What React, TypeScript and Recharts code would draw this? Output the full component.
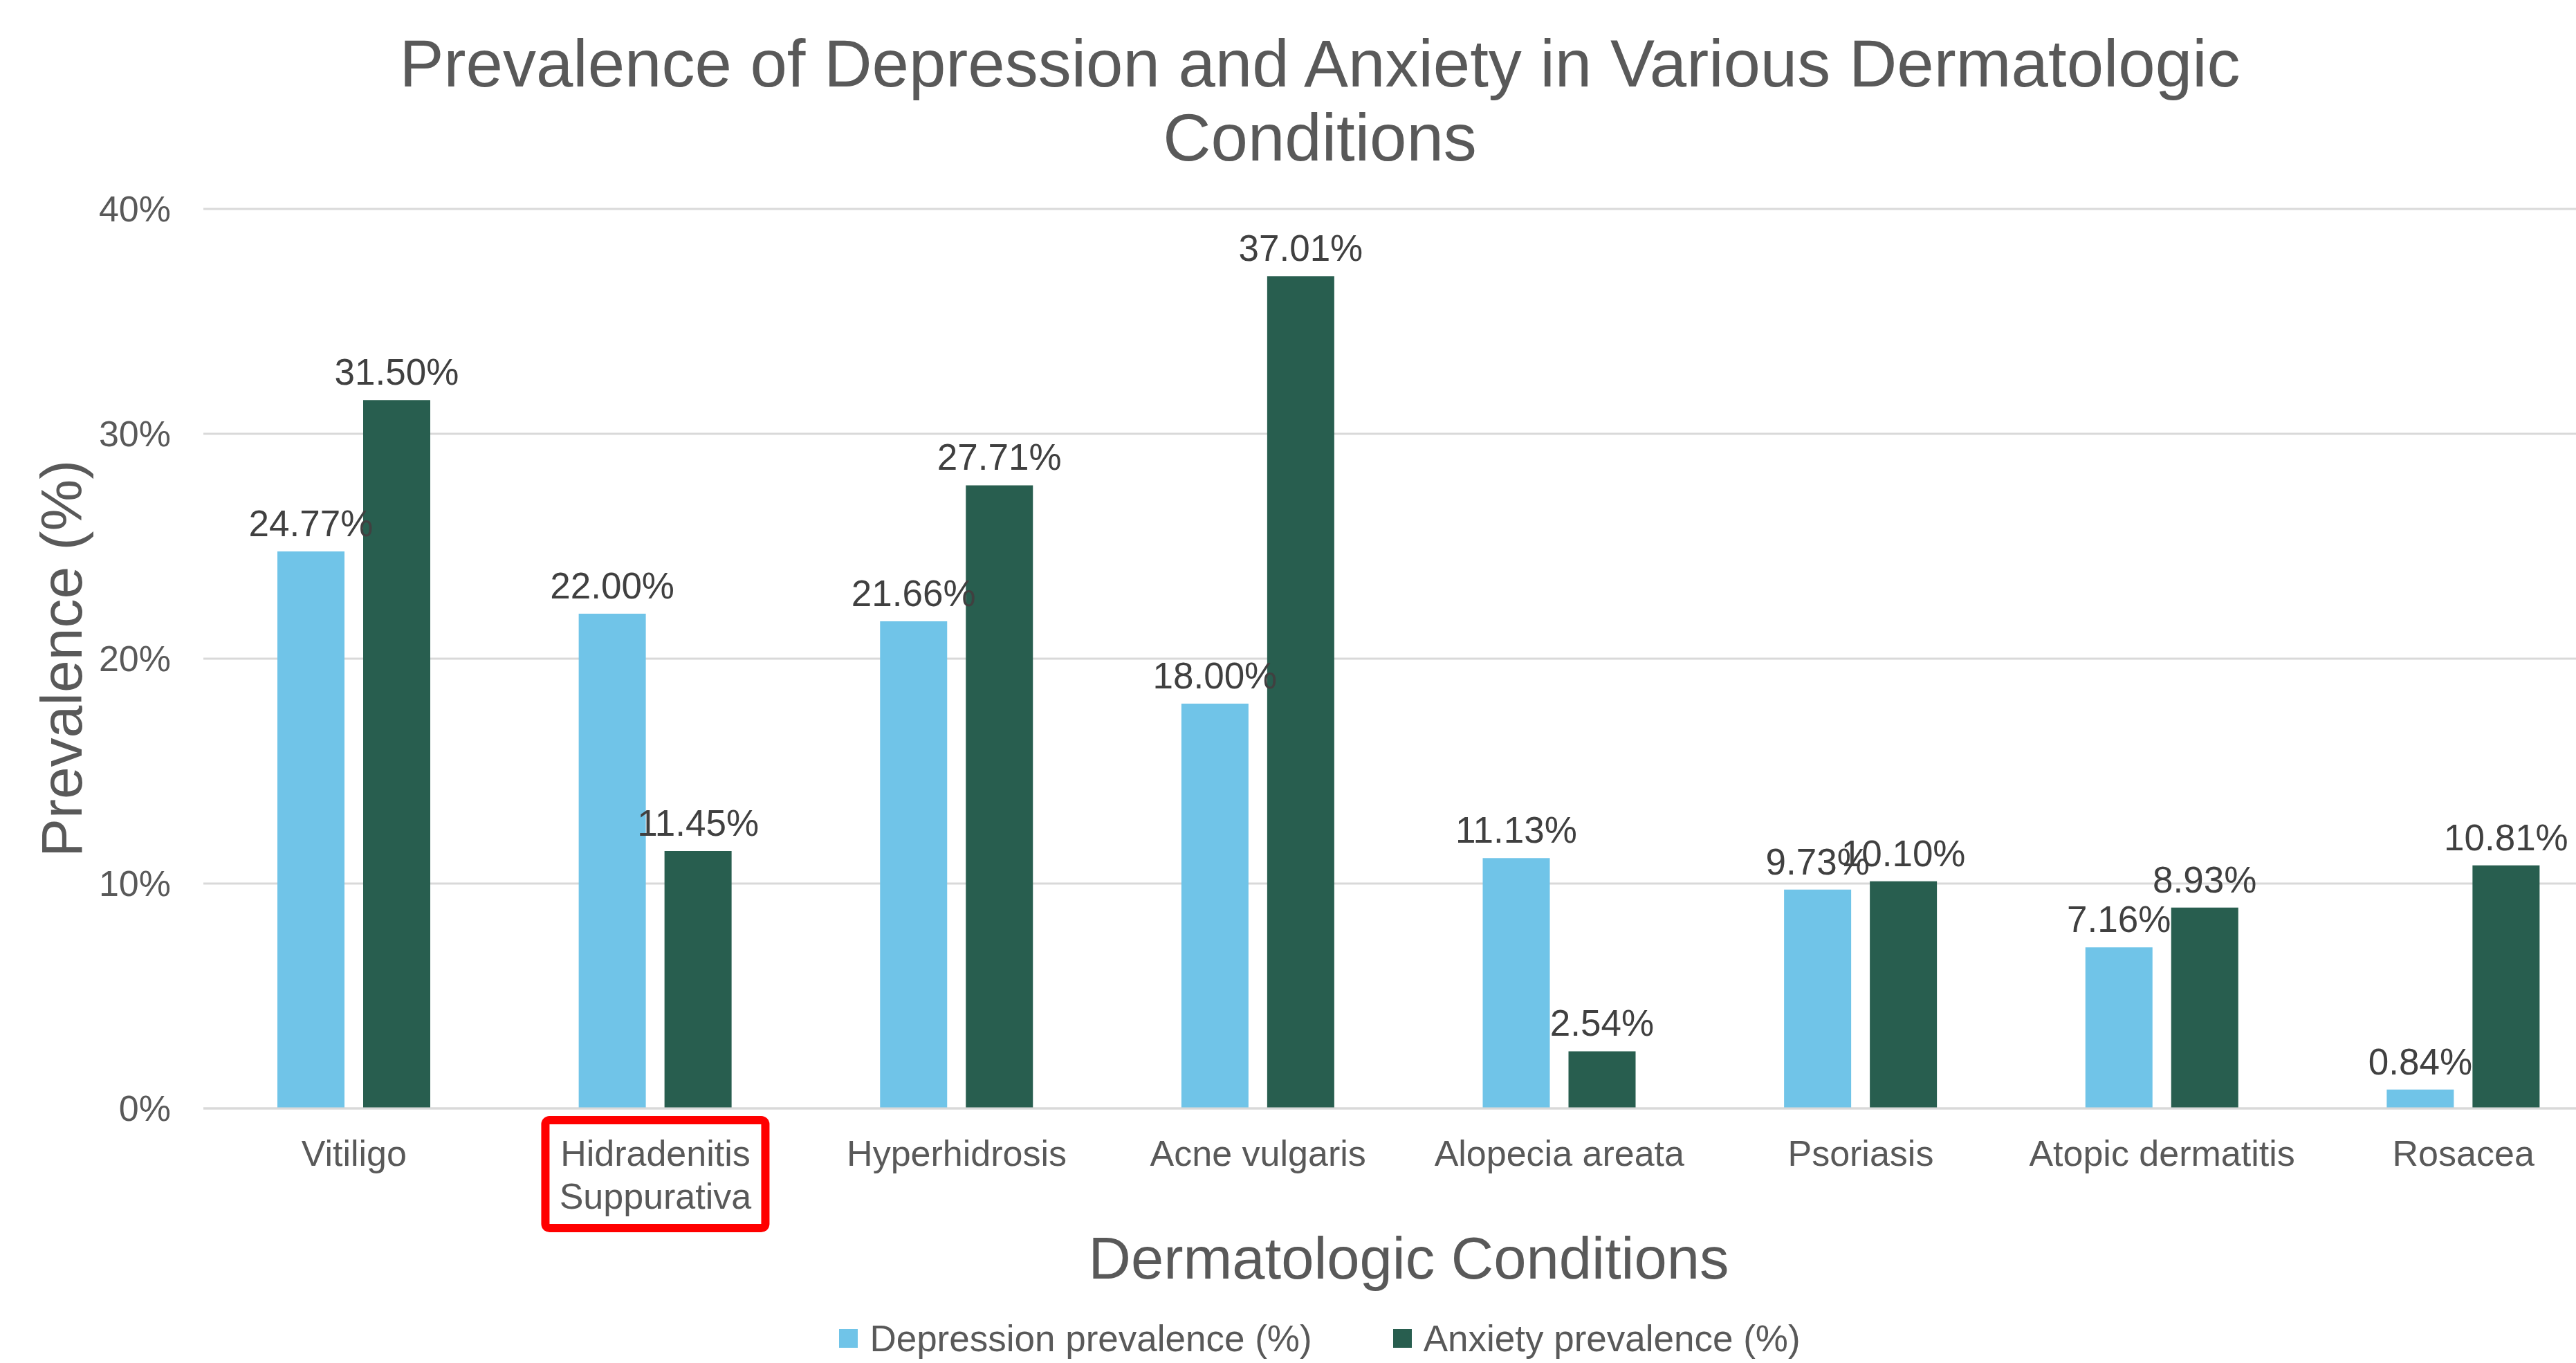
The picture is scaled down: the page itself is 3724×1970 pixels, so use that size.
import React from "react";
import {
  BarChart,
  Bar,
  XAxis,
  YAxis,
  CartesianGrid,
  Legend,
  LabelList,
} from "recharts";

const categories = [
  "Vitiligo",
  "Hidradenitis Suppurativa",
  "Hyperhidrosis",
  "Acne vulgaris",
  "Alopecia areata",
  "Psoriasis",
  "Atopic dermatitis",
  "Rosacea",
];
const depression = [24.77, 22.0, 21.66, 18.0, 11.13, 9.73, 7.16, 0.84];
const anxiety = [31.5, 11.45, 27.71, 37.01, 2.54, 10.1, 8.93, 10.81];
const yTicks = [0, 10, 20, 30, 40];
const highlighted = "Hidradenitis Suppurativa";

const FONT = '"Liberation Sans", Arial, sans-serif';
const BLUE = "#70C4E8";
const GREEN = "#285E4F";
const GREY = "#595959";

const data = categories.map((name, i) => ({
  name,
  depression: depression[i],
  anxiety: anxiety[i],
}));

function CategoryTick(props: any) {
  const { x, y, payload } = props;
  const label: string = payload.value;
  const lines = label.length > 18 ? label.split(" ") : [label];
  return (
    <g>
      {label === highlighted && (
        <rect
          x={x - 159}
          y={y + 17}
          width={318}
          height={156}
          rx={6}
          fill="none"
          stroke="#FF0000"
          strokeWidth={12}
        />
      )}
      {lines.map((ln, i) => (
        <text
          key={i}
          x={x}
          y={y + 83 + i * 62}
          textAnchor="middle"
          fill={GREY}
          fontSize={52}
          fontFamily={FONT}
        >
          {ln}
        </text>
      ))}
    </g>
  );
}

function LegendContent() {
  const items = [
    { label: "Depression prevalence (%)", color: BLUE },
    { label: "Anxiety prevalence (%)", color: GREEN },
  ];
  return (
    <div
      style={{
        display: "flex",
        justifyContent: "center",
        alignItems: "center",
        fontFamily: FONT,
        fontSize: 53,
        color: GREY,
        lineHeight: "69px",
      }}
    >
      {items.map((it, i) => (
        <div
          key={it.label}
          style={{ display: "flex", alignItems: "center", marginLeft: i ? 117 : 0 }}
        >
          <span
            style={{ width: 27, height: 27, background: it.color, marginRight: 17, display: "inline-block" }}
          />
          <span>{it.label}</span>
        </div>
      ))}
    </div>
  );
}

export default function App() {
  return (
    <div
      style={{
        position: "absolute",
        left: 0,
        top: 0,
        width: 3724,
        height: 1970,
        overflow: "hidden",
        background: "#fff",
      }}
    >
      <div
        style={{
          position: "absolute",
          top: 38,
          left: 0,
          width: 3816,
          textAlign: "center",
          fontFamily: FONT,
          fontSize: 96,
          lineHeight: "107px",
          color: GREY,
        }}
      >
        Prevalence of Depression and Anxiety in Various Dermatologic
        <br />
        Conditions
      </div>
      <BarChart
        width={3816}
        height={1970}
        data={data}
        margin={{ top: 302, right: 37, bottom: 248, left: 0 }}
        barGap={27}
        barSize={97}
      >
        <CartesianGrid vertical={false} stroke="#D9D9D9" strokeWidth={3} />
        <XAxis
          dataKey="name"
          height={120}
          interval={0}
          tickSize={0}
          tickMargin={0}
          axisLine={{ stroke: "#D9D9D9", strokeWidth: 3 }}
          tick={<CategoryTick />}
          label={{
            content: (p: any) => {
              const vb = p.viewBox;
              return (
                <text
                  x={vb.x + vb.width / 2}
                  y={vb.y + 246}
                  textAnchor="middle"
                  fill={GREY}
                  fontSize={85}
                  fontFamily={FONT}
                >
                  Dermatologic Conditions
                </text>
              );
            },
          }}
        />
        <YAxis
          width={294}
          domain={[0, 40]}
          ticks={yTicks}
          tickFormatter={(v: number) => `${v}%`}
          axisLine={false}
          tickLine={false}
          tickSize={0}
          tickMargin={47}
          tick={{ fill: GREY, fontSize: 52, fontFamily: FONT }}
          label={{
            content: (p: any) => {
              const vb = p.viewBox;
              const cy = vb.y + vb.height / 2;
              return (
                <text
                  x={118}
                  y={cy}
                  transform={`rotate(-90, 118, ${cy})`}
                  textAnchor="middle"
                  fill={GREY}
                  fontSize={84}
                  fontFamily={FONT}
                >
                  Prevalence (%)
                </text>
              );
            },
          }}
        />
        <Legend
          verticalAlign="middle"
          content={<LegendContent />}
          wrapperStyle={{ top: 1900, left: 0, width: 3816 }}
        />
        <Bar dataKey="depression" name="Depression prevalence (%)" fill={BLUE} isAnimationActive={false}>
          <LabelList
            dataKey="depression"
            position="top"
            offset={22}
            formatter={(v: number) => `${v.toFixed(2)}%`}
            fill="#404040"
            fontSize={53}
            fontFamily={FONT}
          />
        </Bar>
        <Bar dataKey="anxiety" name="Anxiety prevalence (%)" fill={GREEN} isAnimationActive={false}>
          <LabelList
            dataKey="anxiety"
            position="top"
            offset={22}
            formatter={(v: number) => `${v.toFixed(2)}%`}
            fill="#404040"
            fontSize={53}
            fontFamily={FONT}
          />
        </Bar>
      </BarChart>
    </div>
  );
}
